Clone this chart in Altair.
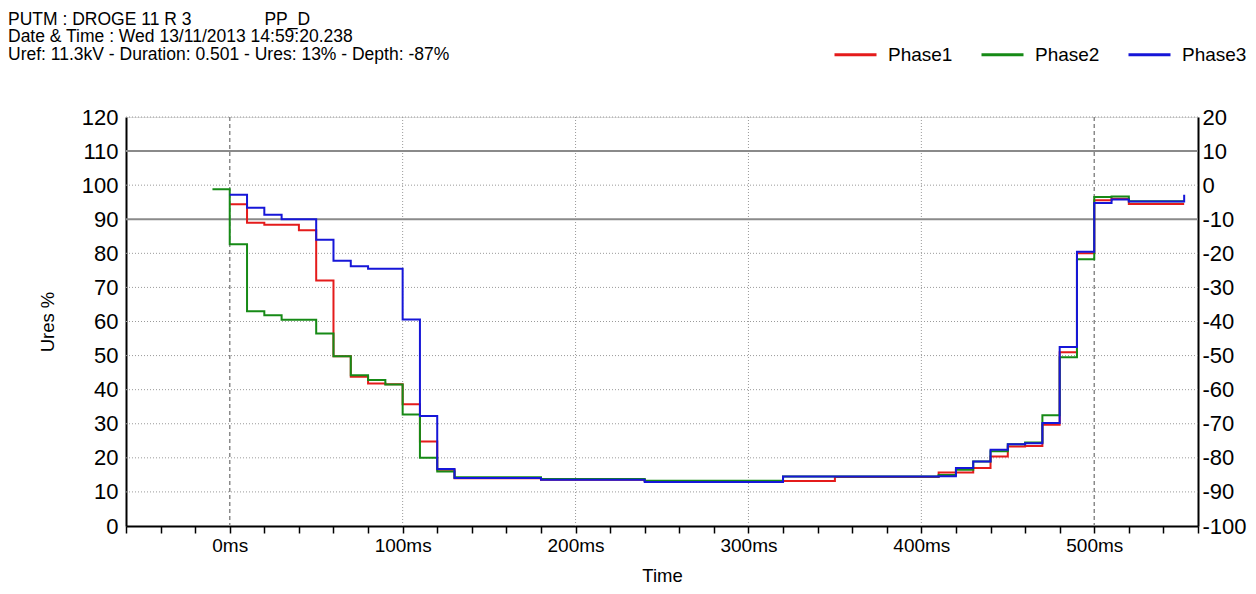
import altair as alt
import pandas as pd

# ---------------- data ----------------
phases = ["Phase1", "Phase2", "Phase3"]
phase_colors = ["#e41b1b", "#168a16", "#1616d8"]

# step change points (ms) and values (%) per phase
red_t = [0, 10, 20, 40, 50, 60, 70, 80, 90, 100, 110, 120, 130, 180, 240, 350,
         410, 430, 440, 450, 460, 470, 480, 490, 500, 510, 520, 552]
red_v = [94.4, 89.0, 88.4, 86.8, 72.0, 49.8, 43.8, 41.8, 41.6, 35.7, 24.8, 16.5, 14.0, 13.6, 13.2, 14.4,
         15.7, 17.0, 20.4, 23.3, 23.5, 29.7, 51.0, 80.0, 95.6, 96.0, 94.5, 94.5]

green_t = [-10, 0, 10, 20, 30, 50, 60, 70, 80, 90, 100, 110, 120, 130, 180, 240, 320,
           410, 420, 430, 440, 450, 460, 470, 480, 490, 500, 510, 520, 552]
green_v = [98.8, 82.7, 63.0, 61.8, 60.5, 56.5, 49.8, 44.2, 42.8, 41.5, 32.7, 20.0, 16.0, 14.3, 13.8, 13.3, 14.5,
           15.0, 16.5, 18.9, 21.9, 24.0, 24.5, 32.5, 49.5, 78.3, 96.5, 96.7, 95.3, 95.3]

blue_t = [0, 10, 20, 30, 50, 60, 70, 80, 100, 110, 120, 130, 180, 240, 320,
          410, 420, 430, 440, 450, 460, 470, 480, 490, 500, 510, 520, 552]
blue_v = [97.2, 93.4, 91.3, 90.0, 84.0, 77.8, 76.2, 75.5, 60.6, 32.3, 16.7, 14.1, 13.6, 12.9, 14.5,
          14.6, 17.0, 18.9, 22.4, 24.0, 24.3, 30.2, 52.5, 80.5, 94.8, 95.8, 95.2, 97.2]

y_ticks = [0, 10, 20, 30, 40, 50, 60, 70, 80, 90, 100, 110, 120]
x_ticks = [-60, -40, -20, 0, 20, 40, 60, 80, 100, 120, 140, 160, 180, 200, 220, 240, 260,
           280, 300, 320, 340, 360, 380, 400, 420, 440, 460, 480, 500, 520, 540, 560]
grid_dotted_y = [10, 20, 30, 40, 50, 60, 70, 80, 100, 120]
grid_solid_y = [90, 110]
grid_dotted_x = [100, 200, 300, 400]
grid_dashed_x = [0, 500]

title_lines = [
    "PUTM : DROGE 11 R 3" + "\u00a0" * 15 + "PP_D",
    "Date & Time : Wed 13/11/2013 14:59:20.238",
    "Uref: 11.3kV - Duration: 0.501 - Ures: 13% - Depth: -87%",
]

# ---------------- build ----------------
rows = []
for name, ts, vs in [("Phase1", red_t, red_v), ("Phase2", green_t, green_v), ("Phase3", blue_t, blue_v)]:
    for t, v in zip(ts, vs):
        rows.append({"t": t, "v": v, "phase": name})
df = pd.DataFrame(rows)

FONT = "Liberation Sans"
xscale = alt.Scale(domain=[-60, 560], nice=False, zero=False)
yscale = alt.Scale(domain=[0, 120], nice=False, zero=False)

x_axis = alt.Axis(
    values=x_ticks, labelExpr="datum.value % 100 === 0 ? datum.value + 'ms' : ''",
    tickSize=7, tickColor="black", tickWidth=1.5, labelPadding=3, labelFontSize=19,
    labelOverlap=False, domainColor="black", domainWidth=2, grid=False,
    title="Time", titleFontSize=18.5, titleFontWeight="normal", titleX=536, titleY=55,
    titleBaseline="alphabetic", titleAlign="center", labelColor="black", titleColor="black",
    labelFont=FONT, titleFont=FONT,
)
left_axis = alt.Axis(
    values=y_ticks, ticks=False, labelPadding=8, labelFontSize=22, domainColor="black",
    domainWidth=2, grid=False, title="Ures %", titleFontSize=18.5, titleFontWeight="normal",
    titleX=-79, titleY=204.5, titleAlign="center", titleBaseline="middle", titleAngle=-90,
    labelColor="black", titleColor="black", labelFont=FONT, titleFont=FONT,
)
right_axis = alt.Axis(
    orient="right", values=y_ticks, labelExpr="datum.value - 100", ticks=False,
    labelPadding=4, labelFontSize=22, domainColor="black", domainWidth=2,
    title=None, grid=False, labelColor="black", labelFont=FONT,
)

hdot = alt.Chart(pd.DataFrame({"y": grid_dotted_y})).mark_rule(
    color="#9a9a9a", strokeDash=[1, 2], strokeWidth=1
).encode(y=alt.Y("y:Q", scale=yscale, axis=None))

hsolid = alt.Chart(pd.DataFrame({"y": grid_solid_y})).mark_rule(
    color="#8a8a8a", strokeWidth=2
).encode(y=alt.Y("y:Q", scale=yscale, axis=right_axis))

vdot = alt.Chart(pd.DataFrame({"t": grid_dotted_x})).mark_rule(
    color="#9a9a9a", strokeDash=[1, 2], strokeWidth=1
).encode(x=alt.X("t:Q", scale=xscale, axis=x_axis))

vdash = alt.Chart(pd.DataFrame({"t": grid_dashed_x})).mark_rule(
    color="#8a8a8a", strokeDash=[4, 3], strokeWidth=1.5
).encode(x=alt.X("t:Q", scale=xscale, axis=x_axis))

legend = alt.Legend(
    orient="none", legendX=707, legendY=-85, direction="horizontal", title=None,
    symbolType="stroke", symbolSize=1764, symbolStrokeWidth=3, labelFontSize=19,
    labelOffset=10, columnPadding=22, padding=0, labelFont=FONT, labelColor="black",
)

lines = alt.Chart(df).mark_line(interpolate="step-after", strokeWidth=2).encode(
    x=alt.X("t:Q", scale=xscale, axis=x_axis),
    y=alt.Y("v:Q", scale=yscale, axis=left_axis),
    color=alt.Color("phase:N", scale=alt.Scale(domain=phases, range=phase_colors), legend=legend),
)

chart = alt.layer(hdot, vdot, vdash, hsolid, lines).resolve_scale(y="independent").resolve_axis(
    y="independent"
).properties(
    width=1072, height=409,
    autosize=alt.AutoSizeParams(type="none"),
    padding={"left": 118, "top": 109, "right": 50, "bottom": 60},
    title=alt.TitleParams(
        text=title_lines, anchor="start", frame="group", dx=-118, dy=35, fontSize=17.5,
        fontWeight="normal", lineHeight=17.5, font=FONT, color="black",
    ),
).configure_view(stroke=None).configure(background="white")

chart.save("out.html", embed_options={"renderer": "svg", "actions": False})
